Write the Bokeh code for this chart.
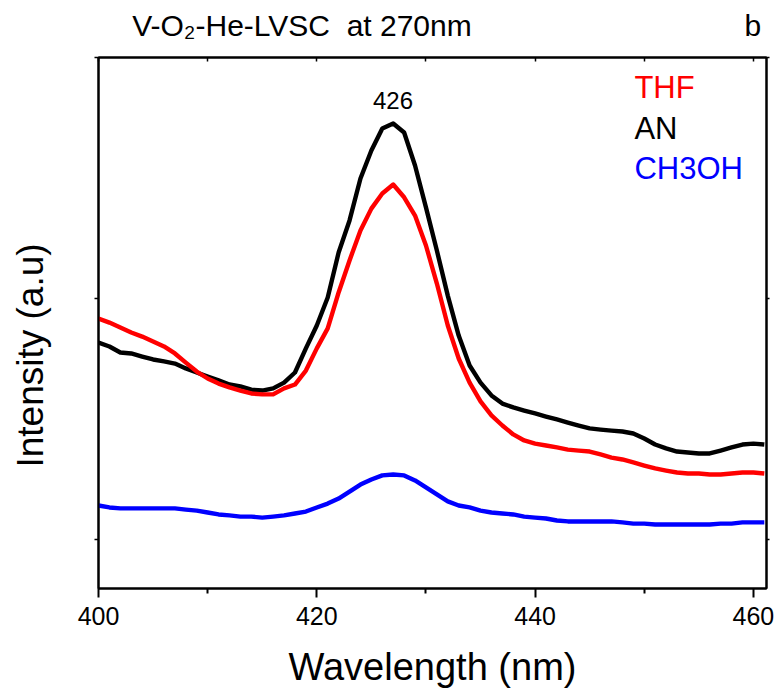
import math
from bokeh.plotting import figure
from bokeh.models import Range1d, LinearAxis, FixedTicker, Label
from bokeh.embed import file_html
from bokeh.resources import INLINE

# ---- data ----
wavelength = list(range(400, 462))

thf = [191.7, 190.0, 188.0, 185.9, 184.2, 182.2, 180.1, 177.2, 173.4, 169.7,
       166.8, 164.7, 163.1, 161.8, 160.6, 160.2, 160.2, 162.7, 164.3, 170.1,
       179.3, 187.6, 202.5, 215.8, 228.2, 237.3, 243.6, 247.3, 242.0, 234.4,
       222.0, 206.2, 188.8, 175.1, 165.1, 157.3, 151.5, 147.3, 143.6, 141.1,
       139.8, 139.0, 138.2, 137.3, 136.9, 136.5, 135.3, 134.0, 133.2, 132.0,
       130.7, 129.5, 128.6, 127.8, 127.4, 127.4, 127.0, 127.0, 127.4, 127.8,
       127.8, 127.4]

an = [181.7, 180.1, 177.6, 177.2, 175.9, 174.7, 173.9, 173.0, 171.0, 169.3,
      167.6, 166.0, 164.3, 163.5, 162.2, 161.8, 162.7, 165.1, 169.3, 179.3,
      188.8, 200.4, 219.1, 232.4, 249.8, 261.4, 270.5, 272.6, 268.9, 255.2,
      237.8, 219.9, 201.2, 184.6, 172.2, 165.1, 159.8, 156.4, 154.8, 153.5,
      152.3, 151.0, 149.8, 148.5, 147.3, 146.1, 145.6, 145.2, 144.8, 144.0,
      141.9, 139.4, 137.8, 136.5, 136.1, 135.7, 135.7, 136.9, 138.2, 139.4,
      139.8, 139.4]

ch3oh = [114.1, 113.3, 112.9, 112.9, 112.9, 112.9, 112.9, 112.9, 112.4, 112.0,
         111.2, 110.4, 110.0, 109.5, 109.5, 109.1, 109.5, 110.0, 110.8, 111.6,
         113.3, 114.9, 117.0, 119.9, 122.8, 124.9, 126.6, 127.0, 126.6, 124.5,
         121.6, 118.7, 115.8, 114.1, 113.3, 112.0, 111.2, 110.8, 110.4, 109.5,
         109.1, 108.7, 107.9, 107.5, 107.5, 107.5, 107.5, 107.5, 107.1, 106.6,
         106.6, 106.2, 106.2, 106.2, 106.2, 106.2, 106.2, 106.6, 106.6, 107.1,
         107.1, 107.1]

series_names = ["THF", "AN", "CH3OH"]
series_colors = ["#ff0000", "#000000", "#0000ff"]
series_values = [thf, an, ch3oh]
draw_order = [1, 0, 2]

x_major_ticks = [400, 420, 440, 460]
x_minor_ticks = [410, 430, 450]
x_top_ticks = [400, 410, 420, 430, 440, 450, 460]
y_ticks = [100, 200, 300]
peak_label = "426"
peak_pos = 426.98

title_text = "V-O\u2082-He-LVSC\u00a0 at 270nm"
title_pos = 418.64          # centre of the title along the wavelength axis
panel_letter = "b"
panel_letter_pos = 459.95
y_title = "Intensity (a.u)"
y_title_pos = 176.35        # centre of the y title along the intensity axis

X_MIN, X_MAX = 400, 461.2
Y_MIN, Y_MAX = 79.67, 300

FONT = "Liberation Sans"

p = figure(frame_width=668, frame_height=531,
           x_range=Range1d(X_MIN, X_MAX), y_range=Range1d(Y_MIN, Y_MAX),
           output_backend="svg", toolbar_location=None,
           min_border_left=98, min_border_top=57, min_border_right=8,
           min_border_bottom=100)
p.title.visible = False
p.grid.visible = False
p.outline_line_color = "black"
p.outline_line_width = 2
p.background_fill_color = "white"
p.border_fill_color = "white"

for i in draw_order:
    p.line(wavelength, series_values[i], line_color=series_colors[i], line_width=4.4,
           line_join="round")

# bottom axis
xa = p.xaxis[0]
xa.ticker = FixedTicker(ticks=x_major_ticks, minor_ticks=x_minor_ticks)
xa.axis_line_width = 2
xa.major_tick_line_width = 2
xa.minor_tick_line_width = 2
xa.major_tick_in = 0
xa.major_tick_out = 9
xa.minor_tick_in = 0
xa.minor_tick_out = 5
xa.major_label_standoff = 9
xa.major_label_text_font = FONT
xa.major_label_text_font_size = "25px"
xa.major_label_text_color = "black"
xa.axis_label = "Wavelength (nm)"
xa.axis_label_text_font = FONT
xa.axis_label_text_font_size = "38px"
xa.axis_label_text_font_style = "normal"
xa.axis_label_text_color = "black"
xa.axis_label_standoff = 18

# left axis: short outward ticks at 100/200/300 (minor ticks); its single
# labelled position carries the rotated y title
ya = p.yaxis[0]
ya.ticker = FixedTicker(ticks=[y_title_pos], minor_ticks=y_ticks)
ya.major_label_overrides = {y_title_pos: y_title}
ya.major_label_orientation = "vertical"
ya.major_label_text_font = FONT
ya.major_label_text_font_size = "37px"
ya.major_label_text_color = "black"
ya.major_label_standoff = 43
ya.axis_line_width = 2
ya.major_tick_in = 0
ya.major_tick_out = 0
ya.minor_tick_in = 0
ya.minor_tick_out = 4
ya.minor_tick_line_width = 1.5
ya.minor_tick_line_color = "black"

# right axis: short outward ticks, no labels
ra = LinearAxis(ticker=FixedTicker(ticks=[], minor_ticks=y_ticks))
ra.axis_line_width = 2
ra.major_tick_in = 0
ra.major_tick_out = 0
ra.minor_tick_in = 0
ra.minor_tick_out = 3
ra.minor_tick_line_width = 1.5
ra.minor_tick_line_color = "black"
p.add_layout(ra, "right")

# top axis: inward ticks every 10 nm; its labelled positions carry the
# chart title and the panel letter
ta = LinearAxis(ticker=FixedTicker(ticks=[title_pos, panel_letter_pos],
                                   minor_ticks=x_top_ticks))
ta.major_label_overrides = {title_pos: title_text, panel_letter_pos: panel_letter}
ta.major_label_text_font = FONT
ta.major_label_text_font_size = "30px"
ta.major_label_text_color = "black"
ta.major_label_standoff = 16
ta.axis_line_width = 2
ta.major_tick_in = 0
ta.major_tick_out = 0
ta.minor_tick_in = 4
ta.minor_tick_out = 0
ta.minor_tick_line_width = 1.5
ta.minor_tick_line_color = "black"
p.add_layout(ta, "above")

# peak annotation
p.add_layout(Label(x=peak_pos, y=282.0, text=peak_label,
                   text_font=FONT, text_font_size="24px", text_color="black",
                   text_align="center", text_baseline="alphabetic"))

# legend as coloured text
legend_y = [287.5, 270.5, 253.9]
for name, color, ly in zip(series_names, series_colors, legend_y):
    p.add_layout(Label(x=449.10, y=ly, text=name,
                       text_font=FONT, text_font_size="31px", text_color=color,
                       text_align="left", text_baseline="alphabetic"))

open("out.html", "w").write(file_html(p, INLINE))
